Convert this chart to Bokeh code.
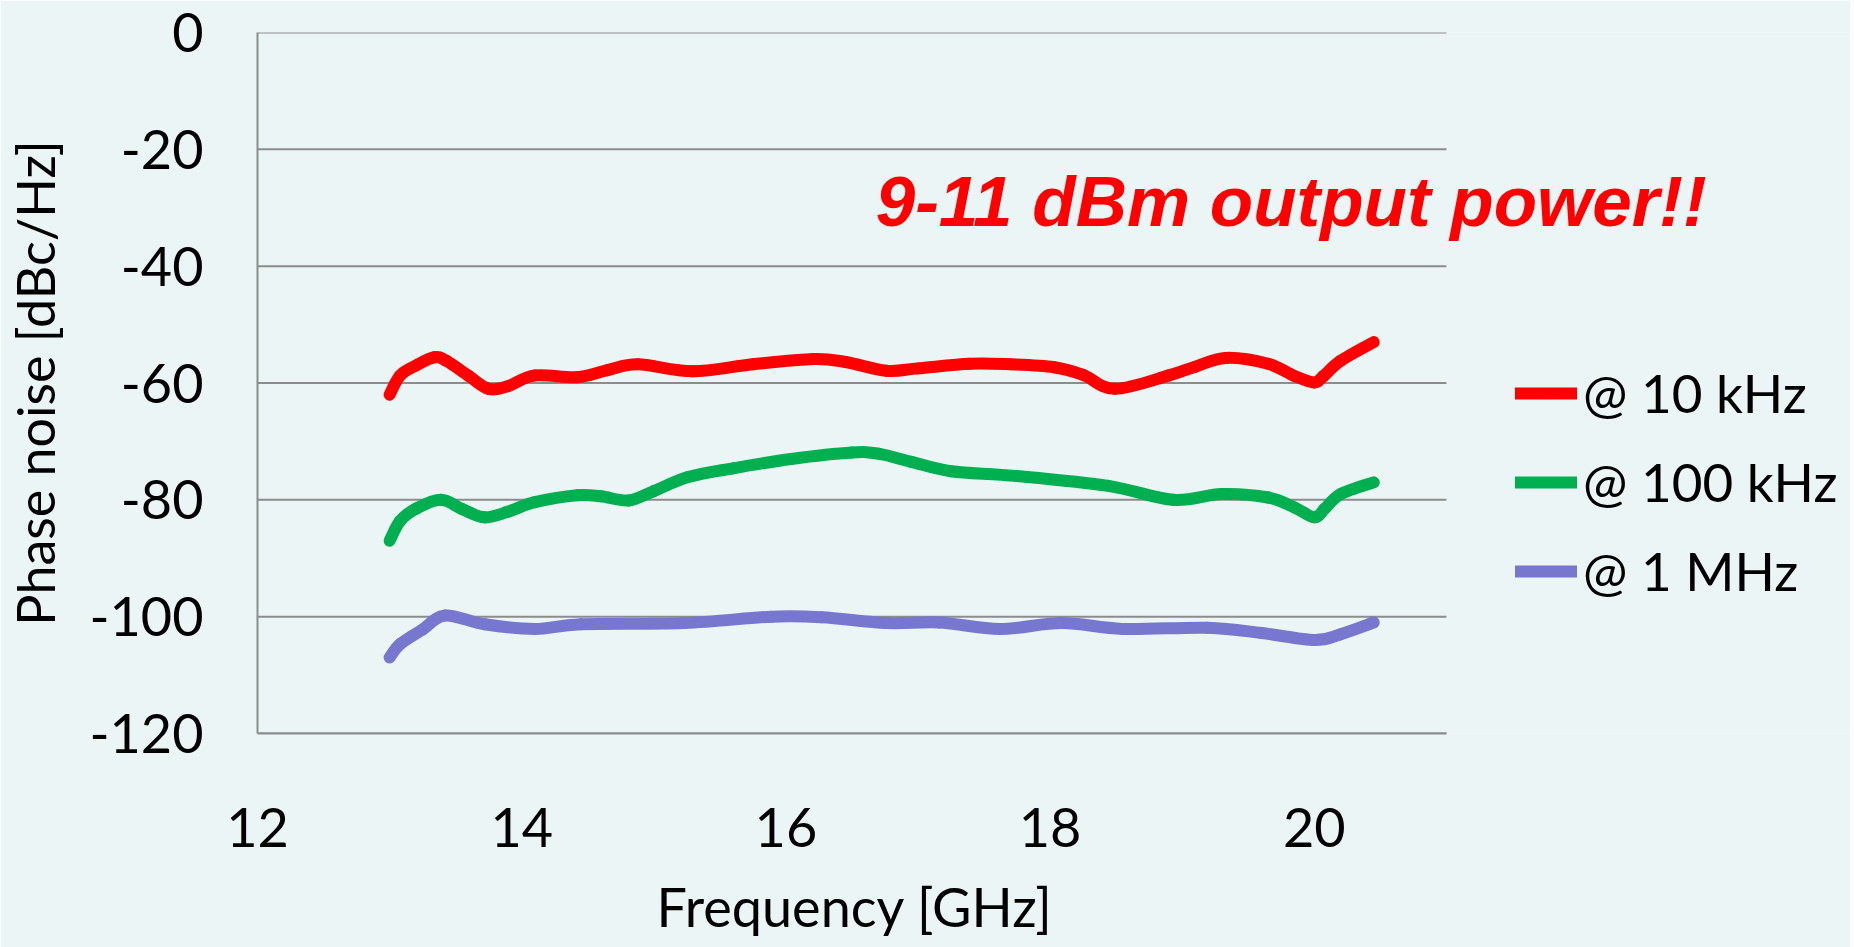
from bokeh.plotting import figure
from bokeh.models import Range1d, Legend, LegendItem, Label, FixedTicker, PrintfTickFormatter, Title
from bokeh.embed import file_html
from bokeh.resources import INLINE

# ---- data ----
red_x = [13.0, 13.08, 13.2, 13.34, 13.43, 13.6, 13.75, 13.9, 14.1, 14.42, 14.65, 14.88, 15.29,
         15.75, 16.21, 16.45, 16.76, 17.0, 17.39, 17.7, 18.03, 18.25, 18.49, 18.9, 19.1, 19.33,
         19.65, 19.85, 20.0, 20.07, 20.2, 20.45]
red_y = [-62.0, -58.7, -57.0, -55.6, -56.2, -58.8, -61.0, -60.5, -58.7, -59.0, -57.8, -56.8, -58.0,
         -56.8, -55.9, -56.4, -57.9, -57.5, -56.7, -56.8, -57.3, -58.6, -61.0, -58.7, -57.2, -55.7,
         -56.7, -58.8, -59.9, -58.8, -56.2, -53.0]

green_x = [13.0, 13.08, 13.2, 13.39, 13.55, 13.72, 13.9, 14.1, 14.42, 14.6, 14.81, 15.0, 15.26,
           15.6, 16.04, 16.5, 16.7, 16.95, 17.25, 17.74, 18.44, 18.93, 19.3, 19.65, 19.85, 20.0,
           20.08, 20.2, 20.45]
green_y = [-87.0, -83.6, -81.5, -80.0, -81.6, -83.0, -82.0, -80.4, -79.2, -79.4, -80.1, -78.5, -76.1,
           -74.6, -73.0, -71.9, -72.1, -73.5, -75.1, -75.9, -77.6, -80.0, -79.0, -79.6, -81.3, -83.0,
           -81.5, -79.0, -77.0]

blue_x = [13.0, 13.08, 13.25, 13.42, 13.72, 14.1, 14.45, 15.23, 15.89, 16.27, 16.76, 17.16, 17.62,
          18.09, 18.55, 19.19, 19.6, 20.0, 20.2, 20.45]
blue_y = [-107.0, -104.7, -102.2, -99.8, -101.3, -102.1, -101.3, -101.1, -100.0, -100.1, -101.1,
          -101.0, -102.1, -101.1, -102.1, -101.9, -102.8, -104.0, -103.0, -101.0]

series_labels = ["@ 10 kHz", "@ 100 kHz", "@ 1 MHz"]
y_ticks = [-120, -100, -80, -60, -40, -20, 0]
x_ticks = [12, 14, 16, 18, 20]
x_axis_span = (12, 21)
x_title = "Frequency [GHz]"
y_title = "Phase noise [dBc/Hz]"
annotation = "9-11 dBm output power!!"

BG = "#EBF5F5"
GRID = "#8C8C8C"
FONT = "Lato"


def smooth_segments(xs, ys):
    """Cubic Bezier pieces through the read points (like a smoothed spreadsheet line)."""
    n = len(xs)
    out = {k: [] for k in ("x0", "y0", "x1", "y1", "cx0", "cy0", "cx1", "cy1")}
    for i in range(n - 1):
        pm = i - 1 if i > 0 else i
        pp = i + 2 if i + 2 < n else i + 1
        out["x0"].append(xs[i]); out["y0"].append(ys[i])
        out["x1"].append(xs[i + 1]); out["y1"].append(ys[i + 1])
        out["cx0"].append(xs[i] + (xs[i + 1] - xs[pm]) / 6.0)
        out["cy0"].append(ys[i] + (ys[i + 1] - ys[pm]) / 6.0)
        out["cx1"].append(xs[i + 1] - (xs[pp] - xs[i]) / 6.0)
        out["cy1"].append(ys[i + 1] - (ys[pp] - ys[i]) / 6.0)
    return out


W, H = 1850, 947
LEFT, TOP = 257, 32
BOTTOM = H - 733
px_per_unit = 132.1
x_end = 12 + (W - LEFT) / px_per_unit

p = figure(width=W, height=H, output_backend="svg", toolbar_location=None,
           x_range=Range1d(12, x_end), y_range=Range1d(-120, 0),
           min_border_left=LEFT, min_border_top=TOP, min_border_bottom=BOTTOM, min_border_right=0)
p.background_fill_color = BG
p.border_fill_color = BG
p.outline_line_color = None
p.xgrid.grid_line_color = None
p.ygrid.grid_line_color = None

# horizontal gridlines only across the chart's x span
p.segment(x0=[x_axis_span[0]] * len(y_ticks), x1=[x_axis_span[1]] * len(y_ticks),
          y0=y_ticks, y1=y_ticks, line_color=GRID, line_width=2)

p.xaxis.ticker = FixedTicker(ticks=x_ticks)
p.yaxis.ticker = FixedTicker(ticks=y_ticks)
p.yaxis.formatter = PrintfTickFormatter(format="%d")
p.xaxis.bounds = x_axis_span
for ax in (p.xaxis[0], p.yaxis[0]):
    ax.axis_line_color = GRID
    ax.axis_line_width = 2
    ax.major_tick_line_color = None
    ax.minor_tick_line_color = None
    ax.major_tick_out = 0
    ax.major_tick_in = 0
    ax.major_label_text_font = FONT
    ax.major_label_text_font_size = "54px"
    ax.major_label_text_color = "black"
    ax.axis_label_text_font = FONT
    ax.axis_label_text_font_style = "normal"
    ax.axis_label_text_color = "black"

p.yaxis.axis_label = y_title
p.yaxis.axis_label_text_font_size = "52px"
p.xaxis.major_label_standoff = 74
p.yaxis.major_label_standoff = 54
p.yaxis.axis_label_standoff = 20

# spacer, then the x-axis title placed under the 12..21 part of the axis
p.add_layout(Title(text=" ", text_font_size="1px", standoff=15), "below")
p.add_layout(Title(text=x_title, align="left", offset=399, standoff=12, vertical_align="top",
                   text_font=FONT, text_font_size="54px", text_font_style="normal",
                   text_color="black"), "below")

renderers = []
for xs, ys, col in ((red_x, red_y, "#FF0000"), (green_x, green_y, "#00B050"), (blue_x, blue_y, "#7777CF")):
    seg = smooth_segments(xs, ys)
    r = p.bezier(line_color=col, line_width=12, line_cap="round", **seg)
    renderers.append(r)

legend = Legend(items=[LegendItem(label=series_labels[i], renderers=[renderers[i]]) for i in range(3)],
                location=(1258, 131), orientation="vertical",
                glyph_width=62, glyph_height=60, label_height=60, spacing=26,
                label_standoff=6, padding=0, margin=0,
                label_text_font=FONT, label_text_font_size="53px", label_text_color="black",
                border_line_color=None, background_fill_alpha=0)
p.add_layout(legend)

lab = Label(x=16.68, y=-28.9, text=annotation, text_font="Liberation Sans",
            text_font_size="71px", text_font_style="bold italic", text_color="#FF0000",
            text_align="left", text_baseline="alphabetic")
p.add_layout(lab)

open("out.html", "w").write(file_html(p, INLINE))
